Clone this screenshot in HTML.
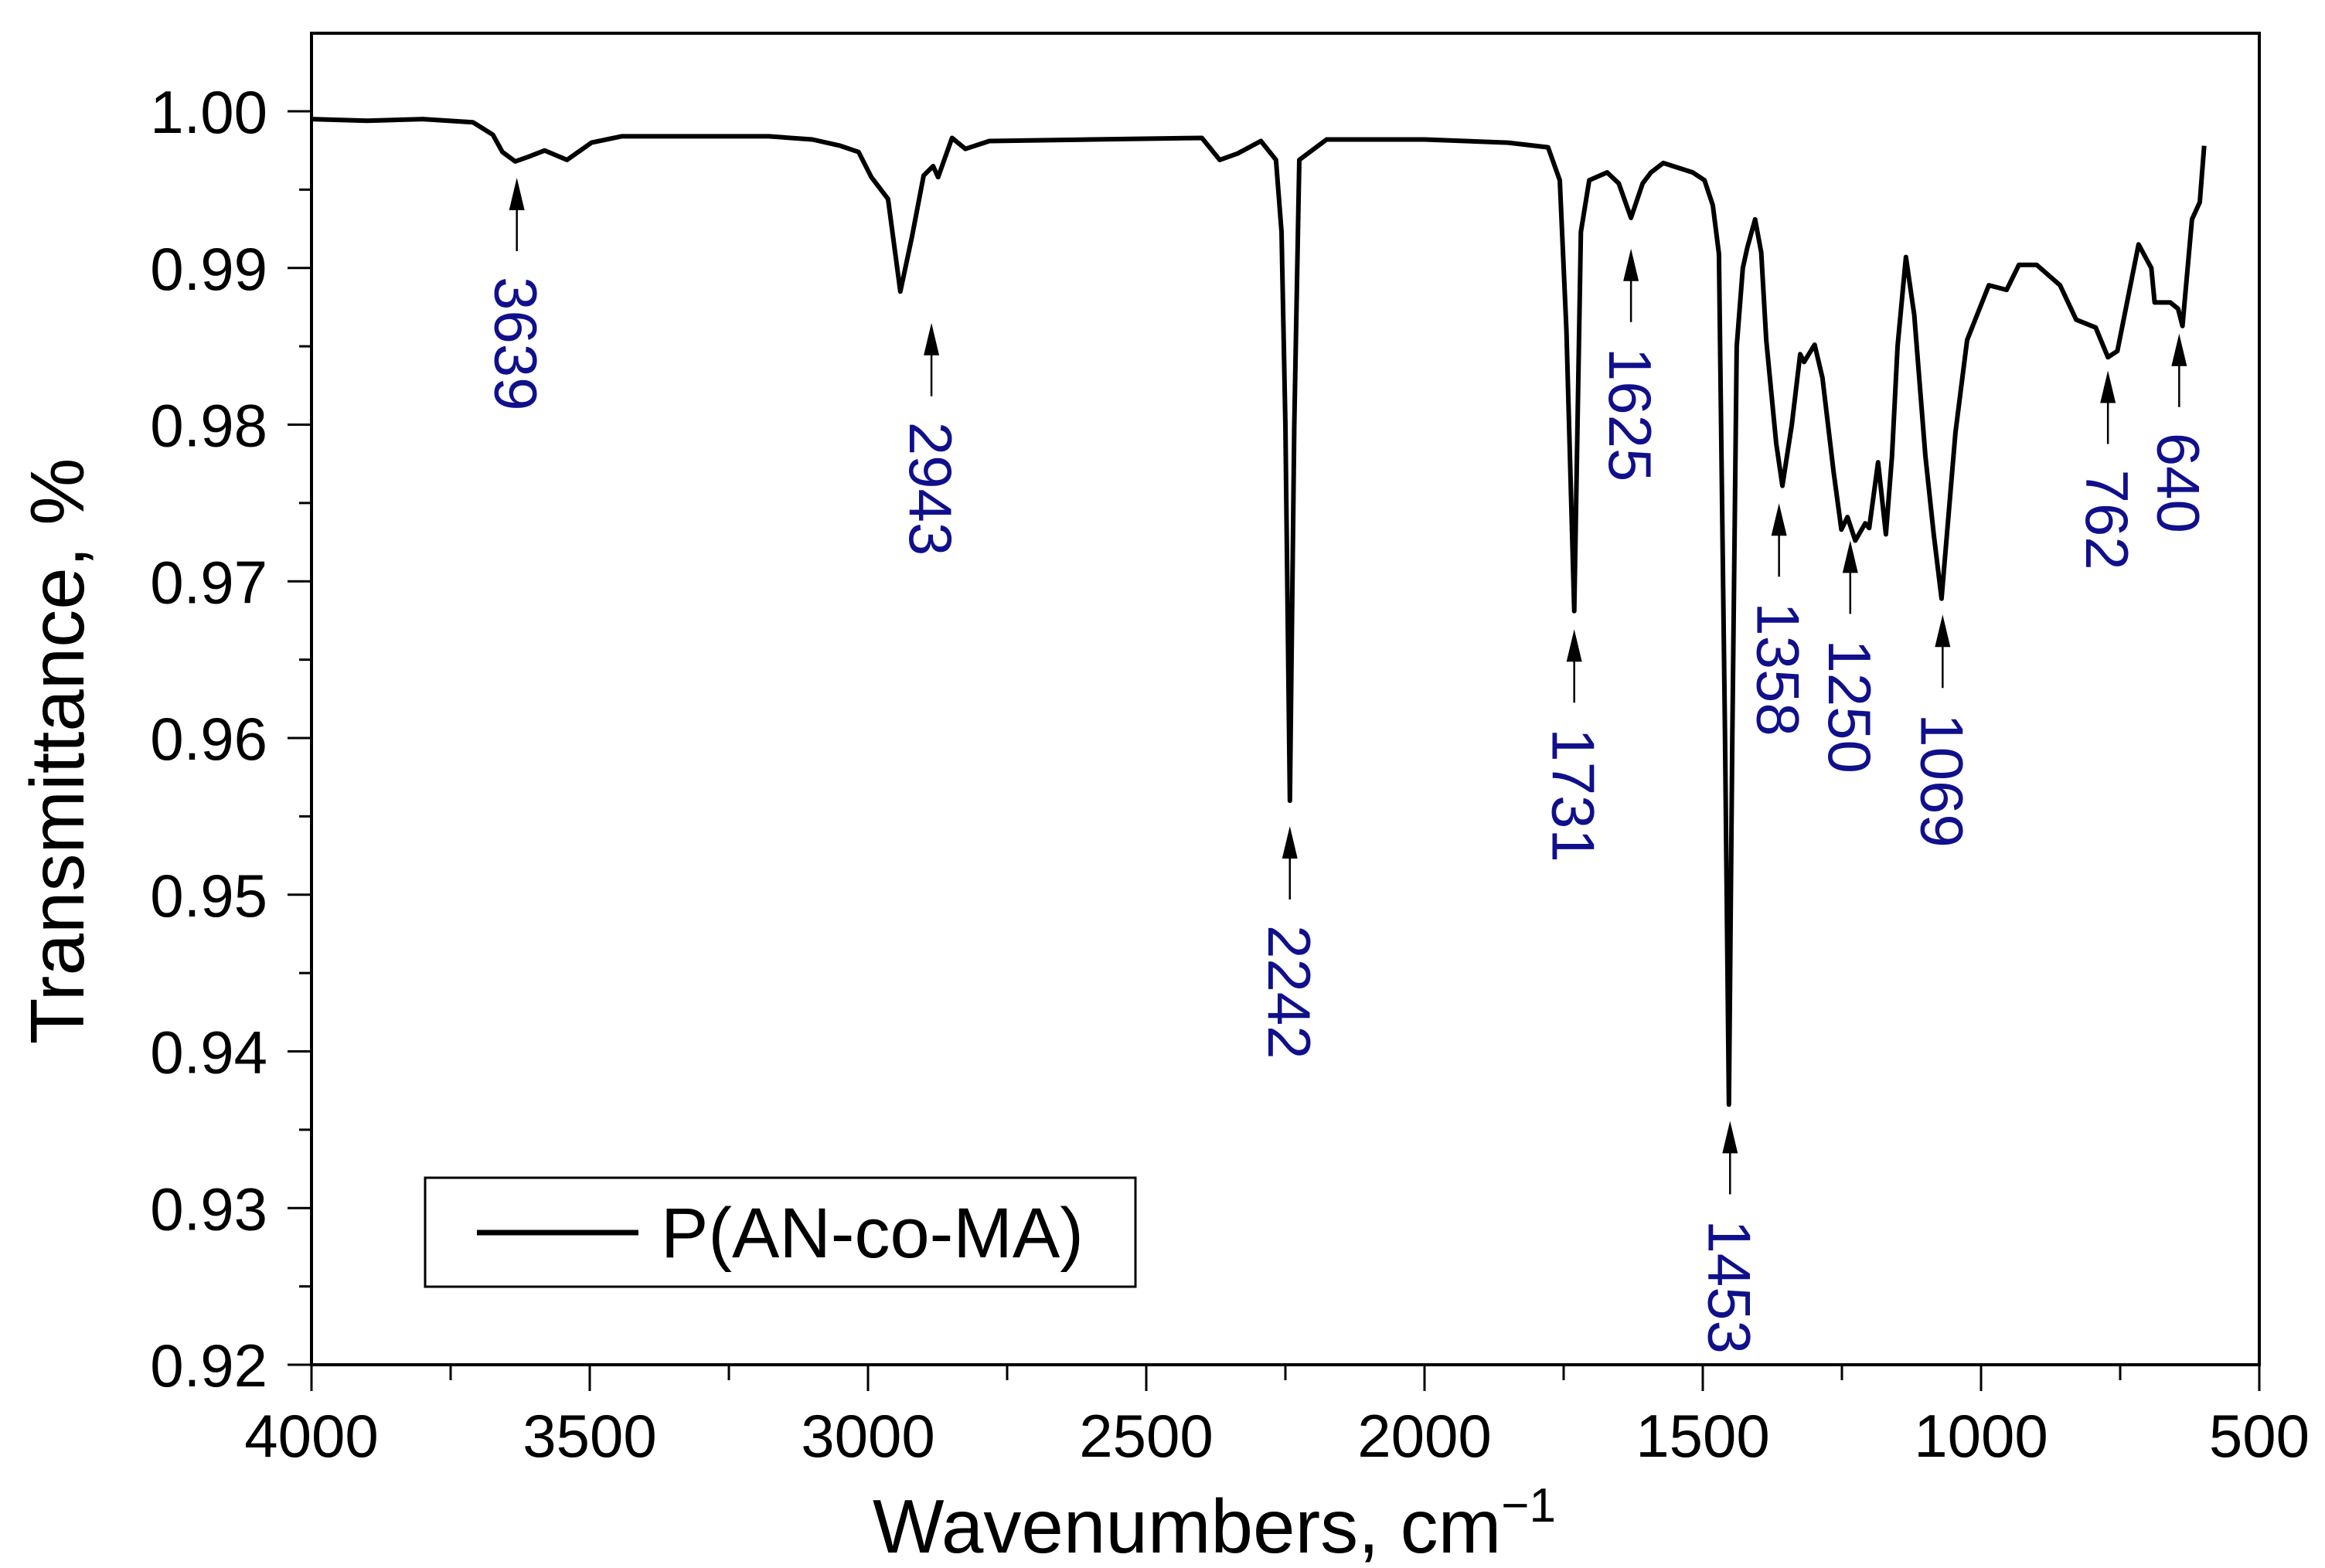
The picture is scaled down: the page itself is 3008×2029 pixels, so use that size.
<!DOCTYPE html>
<html><head><meta charset="utf-8">
<style>
html,body{margin:0;padding:0;background:#fff;}
svg{display:block;}
text{font-family:"Liberation Sans",Arial,sans-serif;}
</style></head>
<body>
<svg id="chart" width="3008" height="2029" viewBox="0 0 3008 2029" xmlns="http://www.w3.org/2000/svg">
  <rect x="0" y="0" width="3008" height="2029" fill="#fff"/>
  <g id="axes"></g>
  <g id="series"></g>
  <g id="annots"></g>
  <g>
    <rect x="550" y="1524" width="919" height="141" fill="#fff" stroke="#000" stroke-width="3"/>
    <line x1="617" y1="1595" x2="826" y2="1595" stroke="#000" stroke-width="7"/>
    <text x="855" y="1627" font-size="92" fill="#000">P(AN-co-MA)</text>
  </g>
  <text x="1129" y="2009" font-size="98" fill="#000">Wavenumbers, cm<tspan dy="-40" font-size="62">−1</tspan></text>
  <text transform="translate(108,972) rotate(-90)" text-anchor="middle" font-size="98" fill="#000">Transmittance, %</text>
</svg>
<script>
// ---- data ----
const wavenumbers = [4000,3900,3800,3710,3674,3657,3634,3610,3581,3541,3497,3443,3300,3178,3100,3050,3017,2994,2964,2942,2921,2900,2883,2874,2849,2825,2782,2600,2400,2368,2336,2294,2267,2257,2250,2242,2234,2225,2176,2000,1850,1778,1757,1745,1731,1719,1704,1672,1651,1629,1608,1593,1571,1518,1497,1482,1471,1460,1453,1447,1439,1428,1420,1406,1395,1386,1368,1357,1340,1325,1318,1299,1285,1265,1251,1240,1226,1208,1201,1185,1171,1160,1150,1135,1120,1100,1085,1071,1046,1025,986,954,932,900,858,829,794,772,755,717,694,688,660,646,638,621,607,599];
const transmittance = [0.9995,0.9994,0.9995,0.9993,0.9985,0.9974,0.9968,0.9971,0.9975,0.9969,0.9980,0.9984,0.9984,0.9984,0.9982,0.9978,0.9974,0.9958,0.9944,0.9885,0.9920,0.9959,0.9965,0.9958,0.9983,0.9976,0.9981,0.9982,0.9983,0.9969,0.9973,0.9981,0.9969,0.9923,0.9800,0.9560,0.9800,0.9969,0.9982,0.9982,0.9980,0.9977,0.9956,0.9860,0.9681,0.9923,0.9956,0.9961,0.9954,0.9932,0.9954,0.9961,0.9967,0.9961,0.9956,0.9940,0.9909,0.9600,0.9366,0.9600,0.9850,0.9900,0.9913,0.9931,0.9910,0.9854,0.9788,0.9761,0.9800,0.9845,0.9840,0.9851,0.9830,0.9770,0.9733,0.9741,0.9726,0.9737,0.9734,0.9776,0.9730,0.9780,0.9850,0.9907,0.9870,0.9780,0.9730,0.9689,0.9795,0.9854,0.9889,0.9886,0.9902,0.9902,0.9889,0.9867,0.9862,0.9843,0.9847,0.9915,0.9900,0.9878,0.9878,0.9874,0.9863,0.9931,0.9942,0.9978];
const peakLabels = ["3639","2943","2242","1731","1625","1453","1358","1250","1069","762","640"];
const peakArrowWn = [3631,2886,2242,1731,1629,1451,1363,1235,1069,772,644];
const peakTipT = [0.99576,0.98650,0.95438,0.96694,0.99123,0.93557,0.97498,0.97261,0.96788,0.98345,0.98581];
const xTicks = [4000,3500,3000,2500,2000,1500,1000,500];
const xMinorTicks = [3750,3250,2750,2250,1750,1250,750];
const yTicks = [0.92,0.93,0.94,0.95,0.96,0.97,0.98,0.99,1.00];
const yTickLabels = ["0.92","0.93","0.94","0.95","0.96","0.97","0.98","0.99","1.00"];
const yMinorTicks = [0.925,0.935,0.945,0.955,0.965,0.975,0.985,0.995];

// ---- scales ----
const X0=403, X1=2923, Y0=1766, Y1=144, TOP=43;
function xs(w){ return X0 + (4000-w)/3500*(X1-X0); }
function ys(t){ return Y0 - (t-0.92)/0.08*(Y0-Y1); }
const NS="http://www.w3.org/2000/svg";
function mk(tag, attrs, parent){
  const e=document.createElementNS(NS,tag);
  for(const k in attrs) e.setAttribute(k,attrs[k]);
  parent.appendChild(e); return e;
}
const axes=document.getElementById('axes');
const frame=mk('rect',{x:X0,y:TOP,width:X1-X0,height:Y0-TOP,fill:'none',stroke:'#000','stroke-width':4},axes);


xTicks.forEach((v,i)=>{
  const t=mk('line',{x1:xs(v),y1:Y0,x2:xs(v),y2:Y0+34,stroke:'#000','stroke-width':3},axes);
  
  
  const l=mk('text',{x:xs(v),y:1885,'text-anchor':'middle','font-size':78,fill:'#000'},axes);
  l.textContent=String(v);
  
  
});
xMinorTicks.forEach(v=>{
  const t=mk('line',{x1:xs(v),y1:Y0,x2:xs(v),y2:Y0+20,stroke:'#000','stroke-width':3},axes);
  
  
});
yTicks.forEach((v,i)=>{
  const t=mk('line',{x1:X0-31,y1:ys(v),x2:X0,y2:ys(v),stroke:'#000','stroke-width':3},axes);
  
  
  const l=mk('text',{x:346,y:ys(v)+28,'text-anchor':'end','font-size':78,fill:'#000'},axes);
  l.textContent=yTickLabels[i];
  
  
});
yMinorTicks.forEach(v=>{
  const t=mk('line',{x1:X0-16,y1:ys(v),x2:X0,y2:ys(v),stroke:'#000','stroke-width':3},axes);
  
  
});
const series=document.getElementById('series');
let d='';
wavenumbers.forEach((w,i)=>{ d+=(i?'L':'M')+xs(w).toFixed(1)+','+ys(transmittance[i]).toFixed(1); });
const path=mk('path',{d:d,fill:'none',stroke:'#000','stroke-width':6,'stroke-linejoin':'round'},series);


const an=document.getElementById('annots');
peakLabels.forEach((lab,i)=>{
  const x=xs(peakArrowWn[i]), y=ys(peakTipT[i]);
  const ln=mk('line',{x1:x,y1:y+30,x2:x,y2:y+95,stroke:'#000','stroke-width':2.5},an);
  
  
  const hd=mk('polygon',{points:`${x},${y} ${x-10},${y+42} ${x+10},${y+42}`,fill:'#000'},an);
  
  
  const tx=mk('text',{transform:`translate(${x-28},${y+128}) rotate(90)`,'font-size':78,fill:'#10108c'},an);
  tx.textContent=lab;
  
  
});
</script>
</body></html>
